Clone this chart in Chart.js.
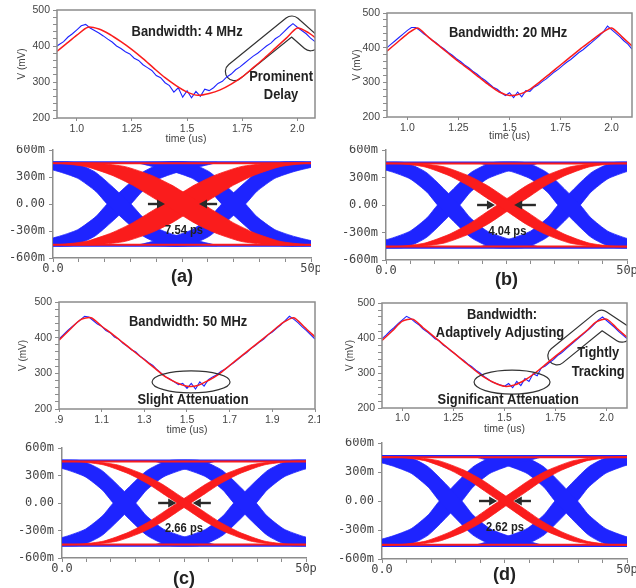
<!DOCTYPE html>
<html>
<head>
<meta charset="utf-8">
<script src="https://cdn.jsdelivr.net/npm/chart.js@4.4.1/dist/chart.umd.min.js"></script>
<style>
html, body { margin: 0; padding: 0; background: #fff; }
#wrap { position: relative; width: 636px; height: 588px; overflow: hidden; }
.box { position: absolute; }
canvas { display: block; }
</style>
</head>
<body>
<div id="wrap">
  <div class="box" style="left:0;top:0"><canvas id="wa" width="320" height="145"></canvas></div>
  <div class="box" style="left:320px;top:0"><canvas id="wb" width="316" height="145"></canvas></div>
  <div class="box" style="left:0;top:145px"><canvas id="ea" width="320" height="145"></canvas></div>
  <div class="box" style="left:320px;top:145px"><canvas id="eb" width="316" height="145"></canvas></div>
  <div class="box" style="left:0;top:290px"><canvas id="wc" width="320" height="148"></canvas></div>
  <div class="box" style="left:320px;top:290px"><canvas id="wd" width="316" height="148"></canvas></div>
  <div class="box" style="left:0;top:438px"><canvas id="ec" width="320" height="150"></canvas></div>
  <div class="box" style="left:320px;top:438px"><canvas id="ed" width="316" height="150"></canvas></div>
</div>
<script>
// waveform time bases (us)
const blueTime = [0.90,0.92,0.94,0.96,0.98,1.00,1.02,1.04,1.06,1.08,1.10,1.12,1.14,1.16,1.18,1.20,1.22,1.24,1.26,1.28,
  1.30,1.32,1.34,1.36,1.38,1.40,1.42,1.44,1.46,1.48,1.50,1.52,1.54,1.56,1.58,1.60,1.62,1.64,1.66,1.68,
  1.70,1.72,1.74,1.76,1.78,1.80,1.82,1.84,1.86,1.88,1.90,1.92,1.94,1.96,1.98,2.00,2.02,2.04,2.06,2.08,2.10];
const redTime = [0.90,0.95,1.00,1.05,1.10,1.15,1.20,1.25,1.30,1.35,1.40,1.45,1.50,1.55,1.60,1.65,1.70,1.75,1.80,1.85,1.90,1.95,2.00,2.05,2.10];

// V (mV)
const blueA = [396,404,412,425,434,445,456,460,450,443,436,428,419,411,400,393,384,378,366,360,348,340,332,318,312,298,290,272,284,258,
  276,256,274,260,280,276,284,296,302,314,322,334,342,352,362,372,380,390,400,408,420,428,440,452,462,452,443,434,422,412,400];
const redA = [380,405,430,452,447,432,412,390,365,338,312,290,272,263,268,278,294,314,340,366,394,422,450,437,414];

const blueB = [400,410,420,430,440,450,458,458,450,440,432,422,414,404,396,386,378,368,360,350,342,332,324,314,306,296,286,280,270,262,
  270,256,272,258,276,274,286,292,302,310,320,330,338,348,358,366,376,386,394,404,414,424,434,446,462,452,442,432,420,410,396];
const redB = [390,415,440,457,432,408,384,360,338,315,292,272,262,266,280,302,326,350,374,398,420,442,457,432,405];

const blueC = [396,408,420,430,440,450,460,458,448,438,432,420,414,402,396,384,376,366,360,348,340,330,322,310,300,290,284,276,268,272,
  258,272,256,276,264,282,290,296,306,312,322,330,340,350,358,370,378,388,396,408,416,426,436,448,460,452,442,430,420,408,396];
const redC = [393,422,450,456,432,410,386,362,338,314,290,274,264,266,280,298,322,346,370,394,418,442,456,430,402];

const blueD = [398,408,420,430,442,452,462,456,446,438,426,418,408,398,392,380,372,362,354,344,336,326,318,308,300,290,282,274,270,266,
  262,270,258,276,264,284,276,298,292,314,320,330,338,350,358,368,378,388,398,408,418,428,440,452,460,450,440,430,418,408,398];
const redD = [393,420,448,454,430,406,382,358,334,310,288,272,262,266,280,300,324,348,372,396,420,446,454,428,402];

const timeTicks = [1.0, 1.25, 1.5, 1.75, 2.0];
const timeTickLabels = ['1.0', '1.25', '1.5', '1.75', '2.0'];
const timeTicksC = [0.9, 1.1, 1.3, 1.5, 1.7, 1.9, 2.1];
const timeTickLabelsC = ['.9', '1.1', '1.3', '1.5', '1.7', '1.9', '2.1'];

// eye diagrams: edge levels (mV) shared by all panels
const blueYA = [462, 462, 350, 0, -140, -285, -365, -462];
const blueYB = [462, 365, 285, 140, 0, -350, -462, -462];
const blueYAn = [-462, -462, -350, 0, 140, 285, 365, 462];
const blueYBn = [-462, -365, -285, -140, 0, 350, 462, 462];
const redY = [458, 450, 415, 320, 210, 105, 0, -105, -210, -320, -415, -450, -458];
const redYn = [-458, -450, -415, -320, -210, -105, 0, 105, 210, 320, 415, 450, 458];
const railBlue = [465, -465];
const railRed = [452, -452];

// eye edge positions (ps)
const aEdgeA1 = [-4.2, 3.8, 8.3, 15.1, 17.3, 20.8, 24.8, 31.8];
const aEdgeB1 = [-6.2, 0.8, 4.8, 8.3, 10.5, 17.3, 21.8, 29.8];
const aEdgeA2 = [18, 26, 30.5, 37.3, 39.5, 43, 47, 54];
const aEdgeB2 = [16, 23, 27, 30.5, 32.7, 39.5, 44, 52];
const aRedU = [2, 9, 14, 19, 23, 26, 29, 32, 35, 39, 44, 49, 56];
const aRedL = [-5.6, 1.4, 6.4, 11.4, 15.4, 18.4, 21.4, 24.4, 27.4, 31.4, 36.4, 41.4, 48.4];

const bEdgeA1 = [-4, 4, 8.5, 15.3, 17.5, 21, 25, 32];
const bEdgeB1 = [-6, 1, 5, 8.5, 10.7, 17.5, 22, 30];
const bEdgeA2 = [21, 29, 33.5, 40.3, 42.5, 46, 50, 57];
const bEdgeB2 = [19, 26, 30, 33.5, 35.7, 42.5, 47, 55];
const bRedU = [0.1, 7.1, 12.1, 17.1, 21.1, 24.1, 27.1, 30.1, 33.1, 37.1, 42.1, 47.1, 54.1];
const bRedL = [-3.9, 3.1, 8.1, 13.1, 17.1, 20.1, 23.1, 26.1, 29.1, 33.1, 38.1, 43.1, 50.1];

const cEdgeA1 = [-4.2, 3.8, 8.3, 15.1, 17.3, 20.8, 24.8, 31.8];
const cEdgeB1 = [-6.2, 0.8, 4.8, 8.3, 10.5, 17.3, 21.8, 29.8];
const cEdgeA2 = [20.5, 28.5, 33, 39.8, 42, 45.5, 49.5, 56.5];
const cEdgeB2 = [18.5, 25.5, 29.5, 33, 35.2, 42, 46.5, 54.5];
const cRedU = [-0.6, 6.4, 11.4, 16.4, 20.4, 23.4, 26.4, 29.4, 32.4, 36.4, 41.4, 46.4, 53.4];
const cRedL = [-3.4, 3.6, 8.6, 13.6, 17.6, 20.6, 23.6, 26.6, 29.6, 33.6, 38.6, 43.6, 50.6];

const dEdgeA1 = [-3, 5, 9.5, 16.3, 18.5, 22, 26, 33];
const dEdgeB1 = [-5, 2, 6, 9.5, 11.7, 18.5, 23, 31];
const dEdgeA2 = [20.6, 28.6, 33.1, 39.9, 42.1, 45.6, 49.6, 56.6];
const dEdgeB2 = [18.6, 25.6, 29.6, 33.1, 35.3, 42.1, 46.6, 54.6];
const dRedU = [-0.3, 6.7, 11.7, 16.7, 20.7, 23.7, 26.7, 29.7, 32.7, 36.7, 41.7, 46.7, 53.7];
const dRedL = [-3.1, 3.9, 8.9, 13.9, 17.9, 20.9, 23.9, 26.9, 29.9, 33.9, 38.9, 43.9, 50.9];

const BLUE = 'rgb(30,36,255)';
const RED = 'rgb(250,28,28)';
const AXIS = '#8c8c8c';
const LABEL = '#444';
const SANS = '"Liberation Sans", Arial, sans-serif';
const MONO = '"DejaVu Sans Mono", monospace';

function pts(xs, ys) {
    return xs.map((v, i) => ({x: v, y: ys[i]}));
}

// overlay: frame, callout shapes, arrows and bold notes
function notes(n) {
    return {
        id: 'notes',
        beforeDatasetsDraw(chart) {
            const {ctx, chartArea: a, scales: {x, y}} = chart;
            (n.tubes || []).forEach(t => {
                ctx.save();
                ctx.beginPath();
                ctx.rect(a.left, a.top, a.right - a.left, a.bottom - a.top);
                ctx.clip();
                ctx.beginPath();
                t.pts.forEach((p, i) => {
                    const px = x.getPixelForValue(p[0]), py = y.getPixelForValue(p[1]);
                    if (i) ctx.lineTo(px, py); else ctx.moveTo(px, py);
                });
                ctx.lineJoin = 'round';
                ctx.lineCap = 'round';
                ctx.strokeStyle = '#333';
                ctx.lineWidth = t.w + 2.4;
                ctx.stroke();
                ctx.strokeStyle = '#fff';
                ctx.lineWidth = t.w;
                ctx.stroke();
                ctx.restore();
            });
        },
        afterDatasetsDraw(chart) {
            const {ctx, chartArea: a, scales: {x, y}} = chart;
            ctx.save();
            if (n.frame) {
                ctx.strokeStyle = AXIS;
                ctx.lineWidth = 1.5;
                ctx.strokeRect(a.left, a.top, a.right - a.left, a.bottom - a.top);
            }
            (n.ellipses || []).forEach(e => {
                ctx.beginPath();
                ctx.ellipse(x.getPixelForValue(e.x), y.getPixelForValue(e.y), e.rx, e.ry, 0, 0, Math.PI * 2);
                ctx.strokeStyle = '#333';
                ctx.lineWidth = 1.2;
                ctx.stroke();
            });
            (n.arrows || []).forEach(r => {
                const x0 = x.getPixelForValue(r[0]), x1 = x.getPixelForValue(r[1]), py = y.getPixelForValue(0);
                const d = Math.sign(x1 - x0);
                ctx.strokeStyle = '#2a2a2a';
                ctx.fillStyle = '#2a2a2a';
                ctx.lineWidth = 2.4;
                ctx.beginPath();
                ctx.moveTo(x0, py);
                ctx.lineTo(x1 - d * 5, py);
                ctx.stroke();
                ctx.beginPath();
                ctx.moveTo(x1, py);
                ctx.lineTo(x1 - d * 8, py - 4.5);
                ctx.lineTo(x1 - d * 8, py + 4.5);
                ctx.closePath();
                ctx.fill();
            });
            (n.texts || []).forEach(t => {
                ctx.save();
                ctx.font = 'bold ' + t.size + 'px ' + SANS;
                ctx.fillStyle = '#222';
                ctx.textAlign = 'center';
                ctx.textBaseline = 'middle';
                ctx.translate(x.getPixelForValue(t.x), y.getPixelForValue(t.y));
                ctx.scale(0.86, 1);
                ctx.fillText(t.t, 0, 0);
                ctx.restore();
            });
            ctx.restore();
        }
    };
}

function baseOptions(L) {
    return {
        animation: false,
        responsive: false,
        devicePixelRatio: 1,
        events: [],
        layout: {autoPadding: false, padding: {left: 0, top: L.top, right: L.right, bottom: 0}},
        elements: {point: {radius: 0}},
        plugins: {legend: {display: false}, tooltip: {enabled: false}}
    };
}

function waveChart(id, L, blue, red, ticks, tickLabels, n) {
    const opts = baseOptions(L);
    opts.scales = {
        x: {
            type: 'linear', min: L.min, max: L.max,
            afterBuildTicks: s => { s.ticks = ticks.map(v => ({value: v})); },
            afterFit: s => { s.height = L.xH; s.paddingLeft = 0; s.paddingRight = 0; },
            grid: {drawOnChartArea: false, tickLength: 3, color: AXIS},
            border: {display: false},
            ticks: {padding: L.xtp, color: LABEL, maxRotation: 0, autoSkip: false,
                font: {family: SANS, size: 10.5}, callback: (v, i) => tickLabels[i]},
            title: {display: true, text: 'time (us)', color: LABEL,
                font: {family: SANS, size: 10.5}, padding: {top: 0, bottom: L.xtt}}
        },
        y: {
            min: 200, max: 500,
            afterFit: s => { s.width = L.yW; s.paddingTop = 0; s.paddingBottom = 0; },
            grid: {drawOnChartArea: false, tickLength: 4, color: AXIS},
            border: {display: false},
            ticks: {stepSize: 20, padding: 3, color: LABEL, autoSkip: false,
                font: {family: SANS, size: 10.5}, callback: v => (v % 100 === 0 ? String(v) : '')},
            title: {display: true, text: 'V (mV)', color: LABEL,
                font: {family: SANS, size: 10}, padding: {top: L.yt, bottom: 0}}
        }
    };
    new Chart(document.getElementById(id), {
        type: 'scatter',
        data: {
            datasets: [
                {data: pts(redTime, red), showLine: true, borderColor: RED, borderWidth: 1.5, tension: 0.25, order: 0},
                {data: pts(blueTime, blue), showLine: true, borderColor: BLUE, borderWidth: 1.1, order: 1}
            ]
        },
        options: opts,
        plugins: [notes(n)]
    });
}

// one eye band: outline runs along edge 1, then back along edge 2, filled as a shape
function band(x1, y1, x2, y2, color, order) {
    return {
        data: pts(x1, y1).concat(pts(x2, y2).reverse()),
        showLine: true, fill: 'shape', tension: 0.2,
        borderColor: color, backgroundColor: color, borderWidth: 0.8,
        pointRadius: 0, order: order
    };
}

function rail(level, color, order) {
    return {data: [{x: 0, y: level}, {x: 50, y: level}], showLine: true, borderColor: color,
        borderWidth: 2, pointRadius: 0, order: order};
}

function eyeChart(id, L, e, label, n) {
    const sets = [
        band(e.redU, redY, e.redL, redY, RED, 0),
        band(e.redU, redYn, e.redL, redYn, RED, 0),
        rail(railRed[0], RED, 0),
        rail(railRed[1], RED, 0),
        band(e.a1, blueYA, e.b1, blueYB, BLUE, 1),
        band(e.a1, blueYAn, e.b1, blueYBn, BLUE, 1),
        band(e.a2, blueYA, e.b2, blueYB, BLUE, 1),
        band(e.a2, blueYAn, e.b2, blueYBn, BLUE, 1),
        rail(railBlue[0], BLUE, 1),
        rail(railBlue[1], BLUE, 1)
    ];
    const opts = baseOptions(L);
    opts.scales = {
        x: {
            type: 'linear', min: 0, max: 50,
            afterFit: s => { s.height = L.xH; s.paddingLeft = 0; s.paddingRight = 0; },
            grid: {drawOnChartArea: false, tickLength: 4, color: AXIS},
            border: {display: true, color: AXIS, width: 1.5},
            ticks: {stepSize: 5, padding: 0, color: LABEL, maxRotation: 0, autoSkip: false,
                font: {family: MONO, size: 12}, callback: v => (v === 0 ? '0.0' : (v === 50 ? '50p' : ''))},
            title: {display: true, text: label, color: '#222',
                font: {family: SANS, size: 18, weight: 'bold', lineHeight: 1}, padding: {top: 0, bottom: L.xtt}}
        },
        y: {
            min: -600, max: 600,
            afterFit: s => { s.width = L.yW; s.paddingTop = 0; s.paddingBottom = 0; },
            grid: {drawOnChartArea: false, tickLength: 4, color: AXIS},
            border: {display: true, color: AXIS, width: 1.5},
            ticks: {stepSize: 300, padding: 4, color: LABEL, autoSkip: false,
                font: {family: MONO, size: 12}, callback: v => (v === 0 ? '0.00' : v + 'm')}
        }
    };
    new Chart(document.getElementById(id), {
        type: 'scatter',
        data: {datasets: sets},
        options: opts,
        plugins: [notes(n)]
    });
}

waveChart('wa', {top: 10, right: 5, yW: 57, xH: 27, yt: 16, xtt: 0, xtp: 2, min: 0.91, max: 2.08},
    blueA, redA, timeTicks, timeTickLabels, {
        frame: true,
        tubes: [{pts: [[1.715, 329], [1.975, 458], [2.06, 412]], w: 17}],
        texts: [
            {t: 'Bandwidth: 4 MHz', x: 1.50, y: 438, size: 15},
            {t: 'Prominent', x: 1.926, y: 315, size: 15},
            {t: 'Delay', x: 1.926, y: 263, size: 15}
        ]
    });

waveChart('wb', {top: 13, right: 4, yW: 67, xH: 28, yt: 31, xtt: 3, xtp: 2, min: 0.9, max: 2.1},
    blueB, redB, timeTicks, timeTickLabels, {
        frame: true,
        texts: [{t: 'Bandwidth: 20 MHz', x: 1.493, y: 442, size: 15}]
    });

waveChart('wc', {top: 12, right: 5, yW: 59, xH: 29, yt: 17, xtt: 2, xtp: 2, min: 0.9, max: 2.1},
    blueC, redC, timeTicksC, timeTickLabelsC, {
        frame: true,
        ellipses: [{x: 1.519, y: 276, rx: 39, ry: 11}],
        texts: [
            {t: 'Bandwidth: 50 MHz', x: 1.505, y: 444, size: 15},
            {t: 'Slight Attenuation', x: 1.528, y: 225, size: 15}
        ]
    });

waveChart('wd', {top: 13, right: 9, yW: 62, xH: 30, yt: 24, xtt: 3, xtp: 1, min: 0.9, max: 2.1},
    blueD, redD, timeTicks, timeTickLabels, {
        frame: true,
        tubes: [{pts: [[1.757, 349], [1.976, 453], [2.075, 414]], w: 17}],
        ellipses: [{x: 1.537, y: 274, rx: 38, ry: 12}],
        texts: [
            {t: 'Bandwidth:', x: 1.488, y: 466, size: 15},
            {t: 'Adaptively Adjusting', x: 1.478, y: 414, size: 15},
            {t: 'Tightly', x: 1.959, y: 357, size: 15},
            {t: 'Tracking', x: 1.959, y: 303, size: 15},
            {t: 'Significant Attenuation', x: 1.518, y: 223, size: 15}
        ]
    });

eyeChart('ea', {top: 5, right: 9, yW: 53, xH: 32, xtt: 4},
    {a1: aEdgeA1, b1: aEdgeB1, a2: aEdgeA2, b2: aEdgeB2, redU: aRedU, redL: aRedL}, '(a)', {
        arrows: [[18.4, 21.7], [31.8, 28.3]],
        texts: [{t: '7.54 ps', x: 25.4, y: -289, size: 13}]
    });

eyeChart('eb', {top: 5, right: 9, yW: 66, xH: 30, xtt: 1},
    {a1: bEdgeA1, b1: bEdgeB1, a2: bEdgeA2, b2: bEdgeB2, redU: bRedU, redL: bRedL}, '(b)', {
        arrows: [[18.9, 22.6], [31.1, 26.6]],
        texts: [{t: '4.04 ps', x: 25.2, y: -290, size: 13}]
    });

eyeChart('ec', {top: 10, right: 14, yW: 62, xH: 30, xtt: 0},
    {a1: cEdgeA1, b1: cEdgeB1, a2: cEdgeA2, b2: cEdgeB2, redU: cRedU, redL: cRedL}, '(c)', {
        arrows: [[19.7, 23.4], [30.5, 26.8]],
        texts: [{t: '2.66 ps', x: 25, y: -280, size: 13}]
    });

eyeChart('ed', {top: 5, right: 9, yW: 62, xH: 29, xtt: 4},
    {a1: dEdgeA1, b1: dEdgeB1, a2: dEdgeA2, b2: dEdgeB2, redU: dRedU, redL: dRedL}, '(d)', {
        arrows: [[19.8, 23.5], [30.4, 26.9]],
        texts: [{t: '2.62 ps', x: 25.1, y: -270, size: 13}]
    });
</script>
</body>
</html>
